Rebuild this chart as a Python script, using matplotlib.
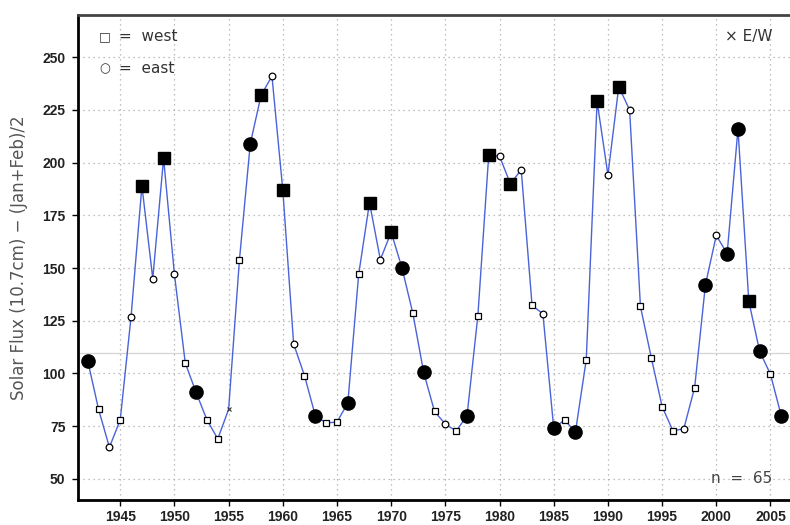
import matplotlib
matplotlib.use("Agg")
import matplotlib.pyplot as plt
import numpy as np

years = list(range(1942, 2007))
flux = [106, 83, 65, 78, 127, 189, 145, 202, 147, 105,
        91, 78, 69, 83, 154, 209, 232, 241, 187, 114,
        99, 80, 76.5, 77, 86, 147, 181, 154, 167, 150,
        128.5, 100.5, 82, 76, 72.7, 80, 127.5, 203.5, 203, 190,
        196.6, 132.3, 128.3, 74, 78, 72.2, 106.5, 229, 194.2, 236,
        225, 131.8, 107.5, 84.3, 72.8, 73.8, 93.3, 142.2, 165.5, 156.8,
        216, 134.2, 110.5, 99.6, 79.8]
# marker class: W=west, E=east, X=E/W ; filled = large black symbol
side = ['E', 'W', 'E', 'W', 'E', 'W', 'E', 'W', 'E', 'W',
        'E', 'W', 'W', 'X', 'W', 'E', 'W', 'E', 'W', 'E',
        'W', 'E', 'W', 'W', 'E', 'W', 'W', 'E', 'W', 'E',
        'W', 'E', 'W', 'E', 'W', 'E', 'W', 'W', 'E', 'W',
        'E', 'W', 'E', 'E', 'W', 'E', 'W', 'W', 'E', 'W',
        'E', 'W', 'W', 'W', 'W', 'E', 'W', 'E', 'E', 'E',
        'E', 'W', 'E', 'W', 'E']
filled = [1, 0, 0, 0, 0, 1, 0, 1, 0, 0,
          1, 0, 0, 0, 0, 1, 1, 0, 1, 0,
          0, 1, 0, 0, 1, 0, 1, 0, 1, 1,
          0, 1, 0, 0, 0, 1, 0, 1, 0, 1,
          0, 0, 0, 1, 0, 1, 0, 1, 0, 1,
          0, 0, 0, 0, 0, 0, 0, 1, 0, 1,
          1, 1, 1, 0, 1]
mean_level = 109.6
x_ticks = list(range(1945, 2006, 5))
y_ticks = list(range(50, 251, 25))

fig = plt.figure(figsize=(7.9, 5.25), dpi=100)
ax = fig.add_axes([0.0987, 0.0476, 0.9013, 0.9238])

ax.set_xlim(1941.1, 2006.8)
ax.set_ylim(40, 270)

ax.axhline(mean_level, color='#d4d4d4', lw=0.9, zorder=1)
ax.plot(years, flux, color='#4a63d8', lw=1.0, zorder=2)

for x, y, s, f in zip(years, flux, side, filled):
    if s == 'X':
        ax.plot(x, y, marker='x', color='#333333', ms=3, mew=0.8, zorder=3)
        continue
    m = 's' if s == 'W' else 'o'
    if f:
        ax.plot(x, y, marker=m, color='black', ms=9 if m == 's' else 9.5,
                mec='black', zorder=4)
    else:
        ax.plot(x, y, marker=m, mfc='white', mec='black',
                ms=5 if m == 's' else 4.8, mew=0.9, zorder=4)

ax.set_xticks(x_ticks)
ax.set_yticks(y_ticks)
ax.grid(True, color='#aaaaaa', ls=(0, (1, 3)), lw=0.9)
ax.tick_params(axis='both', labelsize=10, length=4, width=1, color='black')
ax.tick_params(axis='y', pad=5)
for lab in ax.get_xticklabels() + ax.get_yticklabels():
    lab.set_fontfamily('Liberation Sans')
    lab.set_fontweight('bold')
    lab.set_color('#222222')

ax.spines['right'].set_visible(False)
ax.spines['left'].set_linewidth(2)
ax.spines['bottom'].set_linewidth(2)
ax.spines['top'].set_linewidth(2)
ax.spines['top'].set_color('#444444')

ax.set_ylabel('Solar Flux (10.7cm) \u2212 (Jan+Feb)/2', fontsize=12,
              color='#555555', family='DejaVu Sans', labelpad=10)

ax.text(0.03, 0.955, '\u25a1', transform=ax.transAxes, fontsize=9,
        color='#333333', va='center', family='DejaVu Sans')
ax.text(0.03, 0.89, '\u25cb', transform=ax.transAxes, fontsize=9,
        color='#333333', va='center', family='DejaVu Sans')
ax.text(0.058, 0.955, '=  west', transform=ax.transAxes, fontsize=11,
        color='#333333', va='center', family='DejaVu Sans')
ax.text(0.058, 0.89, '=  east', transform=ax.transAxes, fontsize=11,
        color='#333333', va='center', family='DejaVu Sans')
ax.text(0.975, 0.955, '\u00d7 E/W', transform=ax.transAxes, fontsize=11,
        color='#333333', va='center', ha='right', family='DejaVu Sans')
ax.text(0.975, 0.045, 'n  =  65', transform=ax.transAxes, fontsize=11,
        color='#444444', va='center', ha='right', family='DejaVu Sans')

fig.savefig('out.png', dpi=100)
